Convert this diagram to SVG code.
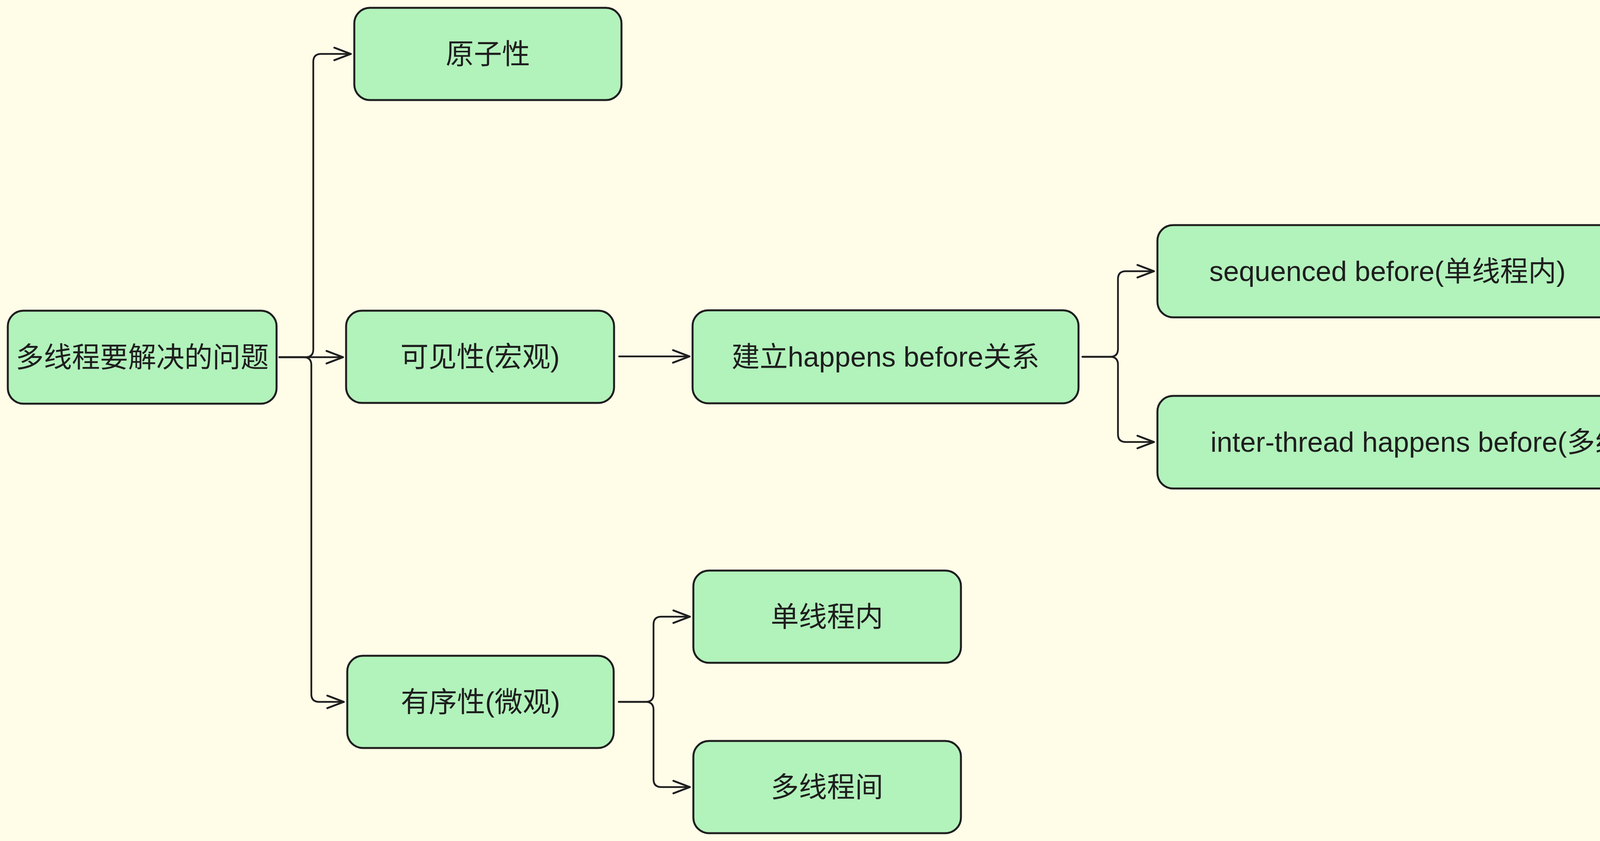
<svg xmlns="http://www.w3.org/2000/svg" width="7872" height="2152" viewBox="0 0 7872 2152">
<style>
.node rect{fill:#b2f2bb;stroke:#1e1e1e;stroke-width:5}
.node text{font-family:"Liberation Sans","Noto Sans CJK SC",sans-serif;font-size:72px;fill:#1e1e1e;text-anchor:middle;dominant-baseline:central}
.conn path{fill:none;stroke:#1e1e1e;stroke-width:4.5;stroke-linecap:round;stroke-linejoin:round}
</style>
<defs>
<marker id="arr" markerUnits="userSpaceOnUse" markerWidth="60" markerHeight="60" refX="42" refY="16" orient="auto" overflow="visible">
<path d="M0,0 L42,16 L0,32" fill="none" stroke="#1e1e1e" stroke-width="5" stroke-linecap="round" stroke-linejoin="round"/>
</marker>
</defs>
<rect x="0" y="0" width="7872" height="2152" fill="#fffce8"/>
<g id="connectors" class="conn">
<path marker-end="url(#arr)" d="M715 914 H782 Q802 914 802 894 V158 Q802 138 822 138 H898"/>
<path marker-end="url(#arr)" d="M715 914 H878"/>
<path marker-end="url(#arr)" d="M715 914 H777 Q797 914 797 934 V1776 Q797 1796 817 1796 H880"/>
<path marker-end="url(#arr)" d="M1585 912 H1765"/>
<path marker-end="url(#arr)" d="M1584 1796 H1653 Q1673 1796 1673 1776 V1598 Q1673 1578 1693 1578 H1766"/>
<path marker-end="url(#arr)" d="M1584 1796 H1653 Q1673 1796 1673 1816 V1994 Q1673 2014 1693 2014 H1766"/>
<path marker-end="url(#arr)" d="M2771 913 H2842 Q2862 913 2862 893 V714 Q2862 694 2882 694 H2954"/>
<path marker-end="url(#arr)" d="M2771 913 H2842 Q2862 913 2862 933 V1111 Q2862 1131 2882 1131 H2954"/>
<path marker-end="url(#arr)" d="M4470 1131 H4533 Q4553 1131 4553 1111 V621 Q4553 601 4573 601 H4637"/>
<path marker-end="url(#arr)" d="M4470 1131 H4533 Q4553 1131 4553 1151 V1959 Q4553 1979 4573 1979 H4637"/>
<path marker-end="url(#arr)" d="M6158 601 H6228 Q6248 601 6248 581 V274 Q6248 254 6268 254 H6340"/>
<path marker-end="url(#arr)" d="M6158 601 H6228 Q6248 601 6248 621 V918 Q6248 938 6268 938 H6340"/>
<path marker-end="url(#arr)" d="M6158 1979 H6340"/>
</g>
<g id="n-root" class="node"><rect x="20" y="795" width="688" height="238" rx="40"/><text x="364" y="914">多线程要解决的问题</text></g>
<g id="n-atomic" class="node"><rect x="907" y="20" width="684" height="236" rx="40"/><text x="1249" y="138">原子性</text></g>
<g id="n-visible" class="node"><rect x="886" y="795" width="686" height="236" rx="40"/><text x="1229" y="913">可见性(宏观)</text></g>
<g id="n-order" class="node"><rect x="889" y="1678" width="682" height="236" rx="40"/><text x="1230" y="1796">有序性(微观)</text></g>
<g id="n-hb" class="node"><rect x="1773" y="794" width="988" height="238" rx="40"/><text x="2267" y="913">建立happens before关系</text></g>
<g id="n-single" class="node"><rect x="1775" y="1460" width="685" height="236" rx="40"/><text x="2117" y="1578">单线程内</text></g>
<g id="n-multi" class="node"><rect x="1775" y="1896" width="685" height="236" rx="40"/><text x="2117" y="2014">多线程间</text></g>
<g id="n-seq" class="node"><rect x="2963" y="576" width="1178" height="236" rx="40"/><text x="3552" y="694">sequenced before(单线程内)</text></g>
<g id="n-ithb" class="node"><rect x="2963" y="1013" width="1496" height="237" rx="40"/><text x="3711" y="1131">inter-thread happens before(多线程间)</text></g>
<g id="n-sync" class="node"><rect x="4646" y="483" width="1503" height="237" rx="40"/><text x="5397" y="601">synchronizes with</text></g>
<g id="n-raop" class="node"><rect x="6349" y="136" width="1499" height="236" rx="40"/><text x="7098" y="254">release/acquire operation</text></g>
<g id="n-rafence" class="node"><rect x="6349" y="822" width="1499" height="236" rx="40"/><text x="7098" y="940">release/acquire fence</text></g>
<g id="n-dep" class="node"><rect x="4646" y="1861" width="1503" height="237" rx="40"/><text x="5397" y="1979">dependency-ordered before</text></g>
<g id="n-rcop" class="node"><rect x="6349" y="1861" width="1499" height="237" rx="40"/><text x="7098" y="1979">release/consume operation</text></g>
</svg>
